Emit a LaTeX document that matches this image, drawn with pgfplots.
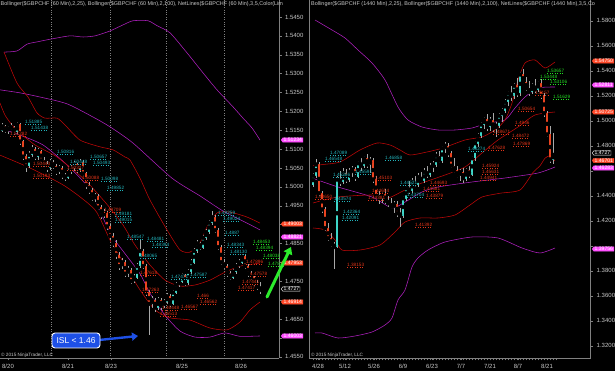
\documentclass[border=0pt]{standalone}
\usepackage{fontspec}
\setmainfont{Liberation Sans}
\usepackage{pgfplots}
\usepackage{pgfplotstable}
\pgfplotsset{compat=1.18}
\usetikzlibrary{shapes.symbols,arrows.meta}

\definecolor{upc}{HTML}{3ED6C8}
\definecolor{dnc}{HTML}{EA4420}
\definecolor{wickc}{HTML}{A8A8A8}
\definecolor{bbred}{HTML}{C00808}
\definecolor{bbpur}{HTML}{B020C0}
\definecolor{tickc}{HTML}{C8C8C8}
\definecolor{axc}{HTML}{808080}
\definecolor{labcy}{HTML}{22B4BC}
\definecolor{labrd}{HTML}{E23418}
\definecolor{labgr}{HTML}{22E022}
\definecolor{flagred}{HTML}{FF4A2A}
\definecolor{flagmag}{HTML}{FF50FF}
\definecolor{islblue}{HTML}{1E50E6}
\definecolor{arrgreen}{HTML}{2CEB2C}

\newcommand\tickfont{\fontsize{6}{7}\selectfont}
\newcommand\nlfont{\fontsize{4.7}{5}\selectfont}
\newcommand\titlefont{\fontsize{5.45}{6}\selectfont}
\newcommand\flagfont{\fontsize{5.1}{5.5}\selectfont}

\newcommand{\nl}[4]{\node[anchor=west, inner sep=0pt, text=#3, font=\nlfont] (nn) at (#1,#2) {#4};
  \draw[#3, dotted, line width=0.5pt] ([yshift=-2.7pt]nn.west) -- ([yshift=-2.7pt]nn.east);}
\newcommand{\flag}[6]{\node[signal, signal to=west, signal pointer angle=110, fill=#3, draw=#4, line width=0.4pt, text=#5, font=\flagfont, inner xsep=0.8pt, inner ysep=0.4pt, anchor=west] at (#1,#2) {#6};}

% hourly candles, left panel (x = horizontal position)
\pgfplotstableread{
x o h l c
2 1.5150 1.5168 1.5145 1.5160
5 1.5160 1.5165 1.5142 1.5150
8 1.5150 1.5162 1.5140 1.5155
11 1.5155 1.5170 1.5150 1.5158
14 1.5158 1.5162 1.5138 1.5145
17 1.5145 1.5172 1.5140 1.5165
20 1.5165 1.5168 1.5110 1.5120
23 1.5120 1.5125 1.5070 1.5080
26 1.5080 1.5088 1.5040 1.5055
29 1.5055 1.5095 1.5050 1.5085
32 1.5085 1.5112 1.5078 1.5100
35 1.5100 1.5105 1.5070 1.5080
38 1.5080 1.5102 1.5072 1.5095
41 1.5095 1.5098 1.5062 1.5070
44 1.5070 1.5078 1.5052 1.5060
47 1.5060 1.5068 1.5040 1.5050
50 1.5050 1.5075 1.5045 1.5065
53 1.5065 1.5070 1.5048 1.5055
56 1.5055 1.5060 1.5032 1.5040
59 1.5040 1.5058 1.5035 1.5050
62 1.5050 1.5055 1.5022 1.5030
65 1.5030 1.5038 1.5015 1.5025
68 1.5025 1.5048 1.5020 1.5040
71 1.5040 1.5058 1.5035 1.5050
74 1.5050 1.5068 1.5042 1.5060
77 1.5060 1.5064 1.5038 1.5045
80 1.5045 1.5075 1.5040 1.5065
83 1.5065 1.5070 1.5028 1.5035
86 1.5035 1.5040 1.4995 1.5005
89 1.5005 1.5012 1.4982 1.4990
92 1.4990 1.4998 1.4962 1.4970
95 1.4970 1.4985 1.4960 1.4975
98 1.4975 1.4980 1.4938 1.4945
101 1.4945 1.4952 1.4915 1.4925
104 1.4925 1.4940 1.4918 1.4930
107 1.4930 1.4935 1.4885 1.4895
110 1.4895 1.4902 1.4860 1.4870
113 1.4870 1.4878 1.4840 1.4850
116 1.4850 1.4858 1.4810 1.4820
119 1.4820 1.4828 1.4780 1.4790
122 1.4790 1.4812 1.4782 1.4800
125 1.4800 1.4805 1.4760 1.4770
128 1.4770 1.4790 1.4762 1.4780
131 1.4780 1.4785 1.4742 1.4750
134 1.4750 1.4768 1.4745 1.4760
137 1.4760 1.4798 1.4755 1.4790
140 1.4790 1.4862 1.4785 1.4830
143 1.4830 1.4835 1.4782 1.4790
146 1.4790 1.4795 1.4712 1.4720
149 1.4720 1.4728 1.4607 1.4690
152 1.4690 1.4710 1.4680 1.4700
155 1.4700 1.4705 1.4668 1.4680
158 1.4680 1.4708 1.4675 1.4700
161 1.4700 1.4705 1.4675 1.4685
164 1.4685 1.4702 1.4680 1.4695
167 1.4695 1.4718 1.4690 1.4710
170 1.4710 1.4715 1.4682 1.4690
173 1.4690 1.4728 1.4686 1.4720
176 1.4720 1.4748 1.4715 1.4740
179 1.4740 1.4758 1.4735 1.4750
182 1.4750 1.4772 1.4745 1.4765
185 1.4765 1.4770 1.4738 1.4745
188 1.4745 1.4782 1.4740 1.4775
191 1.4775 1.4808 1.4770 1.4800
194 1.4800 1.4838 1.4795 1.4830
197 1.4830 1.4858 1.4825 1.4850
200 1.4850 1.4855 1.4832 1.4840
203 1.4840 1.4872 1.4835 1.4865
206 1.4865 1.4888 1.4860 1.4880
209 1.4880 1.4912 1.4875 1.4905
212 1.4905 1.4935 1.4900 1.4920
215 1.4920 1.4925 1.4878 1.4885
218 1.4885 1.4890 1.4832 1.4840
221 1.4840 1.4846 1.4792 1.4800
224 1.4800 1.4808 1.4782 1.4790
227 1.4790 1.4795 1.4762 1.4770
230 1.4770 1.4778 1.4752 1.4760
233 1.4760 1.4782 1.4755 1.4775
236 1.4775 1.4798 1.4770 1.4790
239 1.4790 1.4808 1.4785 1.4800
242 1.4800 1.4822 1.4795 1.4815
245 1.4815 1.4820 1.4782 1.4790
248 1.4790 1.4795 1.4762 1.4770
251 1.4770 1.4778 1.4752 1.4760
254 1.4760 1.4765 1.4738 1.4745
257 1.4745 1.4752 1.4728 1.4735
260 1.4735 1.4748 1.4715 1.4727
}\leftdata

% daily candles, right panel
\pgfplotstableread{
x o h l c
313 1.4490 1.4580 1.4470 1.4560
316 1.4560 1.4690 1.4540 1.4650
319 1.4650 1.4670 1.4400 1.4420
322 1.4420 1.4440 1.4260 1.4290
325 1.4290 1.4310 1.4120 1.4140
328 1.4140 1.4180 1.4040 1.4060
331 1.4060 1.4100 1.3990 1.4010
334 1.4010 1.4030 1.3815 1.3990
337 1.3990 1.4560 1.3980 1.4530
340 1.4530 1.4600 1.4480 1.4510
343 1.4510 1.4620 1.4490 1.4580
346 1.4580 1.4610 1.4500 1.4530
349 1.4530 1.4620 1.4510 1.4590
352 1.4590 1.4640 1.4550 1.4610
355 1.4610 1.4630 1.4520 1.4550
358 1.4550 1.4680 1.4540 1.4660
361 1.4660 1.4700 1.4600 1.4640
364 1.4640 1.4720 1.4620 1.4700
367 1.4700 1.4730 1.4620 1.4650
370 1.4650 1.4710 1.4580 1.4680
373 1.4680 1.4700 1.4500 1.4530
376 1.4530 1.4560 1.4380 1.4400
379 1.4400 1.4440 1.4330 1.4380
382 1.4380 1.4430 1.4340 1.4410
385 1.4410 1.4450 1.4330 1.4360
388 1.4360 1.4400 1.4310 1.4340
391 1.4340 1.4380 1.4290 1.4310
394 1.4310 1.4360 1.4260 1.4330
397 1.4330 1.4360 1.4230 1.4260
400 1.4260 1.4300 1.4150 1.4240
403 1.4240 1.4400 1.4220 1.4380
406 1.4380 1.4480 1.4360 1.4460
409 1.4460 1.4520 1.4410 1.4440
412 1.4440 1.4540 1.4420 1.4510
415 1.4510 1.4560 1.4470 1.4490
418 1.4490 1.4580 1.4470 1.4550
421 1.4550 1.4590 1.4500 1.4520
424 1.4520 1.4620 1.4500 1.4590
427 1.4590 1.4640 1.4540 1.4570
430 1.4570 1.4660 1.4550 1.4630
433 1.4630 1.4680 1.4590 1.4650
436 1.4650 1.4750 1.4630 1.4720
439 1.4720 1.4760 1.4660 1.4680
442 1.4680 1.4800 1.4660 1.4780
445 1.4780 1.4830 1.4740 1.4800
448 1.4800 1.4820 1.4710 1.4740
451 1.4740 1.4760 1.4620 1.4640
454 1.4640 1.4700 1.4580 1.4600
457 1.4600 1.4640 1.4540 1.4560
460 1.4560 1.4610 1.4520 1.4590
463 1.4590 1.4620 1.4500 1.4540
466 1.4540 1.4620 1.4520 1.4600
469 1.4600 1.4640 1.4540 1.4570
472 1.4570 1.4720 1.4560 1.4700
475 1.4700 1.4840 1.4680 1.4820
478 1.4820 1.4900 1.4790 1.4880
481 1.4880 1.4990 1.4860 1.4970
484 1.4970 1.5030 1.4930 1.5010
487 1.5010 1.5050 1.4920 1.4950
490 1.4950 1.5030 1.4920 1.5000
493 1.5000 1.5060 1.4910 1.4940
496 1.4940 1.4990 1.4870 1.4960
499 1.4960 1.5060 1.4940 1.5040
502 1.5040 1.5100 1.4990 1.5080
505 1.5080 1.5170 1.5060 1.5150
508 1.5150 1.5240 1.5120 1.5220
511 1.5220 1.5280 1.5160 1.5200
514 1.5200 1.5300 1.5170 1.5280
517 1.5280 1.5340 1.5190 1.5220
520 1.5220 1.5390 1.5200 1.5370
523 1.5370 1.5410 1.5290 1.5310
526 1.5310 1.5350 1.5240 1.5260
529 1.5260 1.5320 1.5200 1.5230
532 1.5230 1.5300 1.5210 1.5280
535 1.5280 1.5330 1.5220 1.5250
538 1.5250 1.5320 1.5230 1.5300
541 1.5300 1.5330 1.5170 1.5200
544 1.5200 1.5220 1.5030 1.5060
547 1.5060 1.5080 1.4870 1.4890
550 1.4890 1.4960 1.4660 1.4690
553 1.4690 1.4900 1.4650 1.4727
}\rightdata

\pgfplotsset{
  panel/.style={scale only axis, height=358pt, anchor=south west,
    axis x line*=bottom, axis y line*=right,
    axis line style={axc, line width=0.6pt},
    tick style={axc, line width=0.4pt}, tick align=outside,
    major tick length=2.5pt, minor tick length=2.5pt,
    ticklabel style={font=\tickfont, text=tickc},
    yticklabel style={/pgf/number format/fixed, /pgf/number format/fixed zerofill,
      /pgf/number format/precision=4, /pgf/number format/assume math mode=true},
    scaled y ticks=false},
  wick/.style={only marks, mark=none, error bars/y dir=both, error bars/y explicit,
    error bars/error mark=none, error bars/error bar style={draw=wickc, line width=0.4pt}},
  body/.style 2 args={only marks, mark=none, error bars/y dir=both, error bars/y explicit,
    error bars/error mark=none, error bars/error bar style={draw=#1, line width=#2}},
  band/.style={#1, line width=0.55pt, smooth, tension=0.4, mark=none}
}

\begin{document}
\begin{tikzpicture}
\useasboundingbox (0,0) rectangle (615pt,371pt);
\fill[black] (0,0) rectangle (615pt,371pt);

%================ LEFT PANEL (60 min) ================
\begin{axis}[panel, at={(0pt,13pt)}, width=279pt,
  xmin=0, xmax=279, ymin=1.45466, ymax=1.5495,
  ytick={1.455,1.465,1.475,1.485,1.495,1.5,1.505,1.51,1.515,1.52,1.525,1.53,1.535,1.54,1.545},
  extra y ticks={1.46,1.47,1.48,1.49}, extra y tick labels={},
  xtick={8,68,111,182,241}, xticklabels={8/20,8/21,8/23,8/25,8/26},
  extra x ticks={51,110,166,224}, extra x tick labels={},
  extra x tick style={grid=major, major grid style={axc, dotted, line width=0.45pt}, major tick length=0pt}]
% Bollinger (2,100) purple
\addplot[band=bbpur] coordinates {(4,1.5357) (17,1.5360) (27,1.5378) (37,1.5384) (52,1.5392) (70,1.5400) (83,1.5397) (95,1.5400) (110,1.5413) (123,1.5429) (133,1.5440) (148,1.5440) (157,1.5427) (170,1.5408) (187,1.5355) (203,1.5302) (217,1.5257) (233,1.5212) (243,1.5182) (252,1.5156) (260,1.5124)};
\addplot[band=bbpur] coordinates {(0,1.5257) (20,1.5249) (40,1.5238) (67,1.5220) (93,1.5185) (110,1.5159) (133,1.5116) (172,1.5023) (200,1.4976) (223,1.4936) (247,1.4904) (260,1.4886)};
\addplot[band=bbpur] coordinates {(0,1.5156) (20,1.5137) (43,1.5111) (67,1.5058) (90,1.4992) (110,1.4878) (123,1.4830) (140,1.4770) (150,1.4718) (165,1.4660) (180,1.4618) (195,1.4602) (210,1.4602) (225,1.4613) (240,1.4604) (260,1.4605)};
% Bollinger (2,25) red
\addplot[band=bbred] coordinates {(4,1.5357) (17,1.5275) (28,1.5238) (37,1.5196) (45,1.5182) (57,1.5182) (65,1.5164) (80,1.5124) (100,1.5106) (113,1.5098) (125,1.5079) (130,1.5071) (140,1.5023) (150,1.4965) (167,1.4886) (180,1.4833) (190,1.4827) (200,1.4851) (207,1.4894) (217,1.4931) (230,1.4933) (247,1.4920) (260,1.4904)};
\addplot[band=bbred] coordinates {(0,1.5222) (5,1.5190) (12,1.5164) (20,1.5143) (35,1.5111) (57,1.5079) (83,1.5023) (97,1.4984) (110,1.4944) (123,1.4899) (135,1.4846) (150,1.4793) (165,1.4753) (180,1.4737) (195,1.4740) (210,1.4753) (225,1.4774) (240,1.4790) (260,1.4798)};
\addplot[band=bbred] coordinates {(0,1.5084) (30,1.5050) (65,1.5002) (95,1.4939) (110,1.4859) (125,1.4793) (140,1.4727) (155,1.4674) (170,1.4653) (190,1.4647) (210,1.4626) (227,1.4621) (240,1.4642) (250,1.4674) (260,1.4695)};
% candles
\addplot[wick] table[x=x, y=c, y error plus expr={\thisrow{h}-\thisrow{c}}, y error minus expr={\thisrow{c}-\thisrow{l}}] {\leftdata};
\addplot[restrict expr to domain={\thisrow{c}-\thisrow{o}}{0:1}, body={upc}{1.9pt}] table[x=x, y expr={(\thisrow{o}+\thisrow{c})/2}, y error expr={abs(\thisrow{c}-\thisrow{o})/2+0.00007}] {\leftdata};
\addplot[restrict expr to domain={\thisrow{c}-\thisrow{o}}{-1:-0.00001}, body={dnc}{1.9pt}] table[x=x, y expr={(\thisrow{o}+\thisrow{c})/2}, y error expr={abs(\thisrow{c}-\thisrow{o})/2+0.00007}] {\leftdata};
\end{axis}

%================ RIGHT PANEL (1440 min) ================
\begin{axis}[panel, at={(309pt,13pt)}, width=281.7pt,
  xmin=309, xmax=590.7, ymin=1.3102, ymax=1.5966,
  ytick={1.32,1.34,1.36,1.38,1.42,1.44,1.48,1.5,1.52,1.54,1.56,1.58},
  extra y ticks={1.4,1.46}, extra y tick labels={},
  xtick={318,345,374,403,432,461,490,518,547},
  xticklabels={4/28,5/12,5/26,6/9,6/23,7/7,7/21,8/7,8/21},
  minor xtick={313,316,...,556}]
% Bollinger (2,100) purple
\addplot[band=bbpur] coordinates {(315,1.5806) (332,1.5726) (345,1.5662) (358,1.5566) (372,1.5462) (385,1.5326) (398,1.5110) (408,1.5006) (422,1.4950) (438,1.4926) (455,1.4926) (472,1.4942) (488,1.4982) (505,1.5006) (515,1.5102) (525,1.5190) (538,1.5262) (555,1.5270)};
\addplot[band=bbpur] coordinates {(312,1.4542) (338,1.4470) (372,1.4390) (392,1.4302) (405,1.4350) (422,1.4430) (438,1.4470) (472,1.4510) (505,1.4542) (538,1.4582) (555,1.4630)};
\addplot[band=bbpur] coordinates {(315,1.3302) (322,1.3302) (338,1.3262) (355,1.3278) (372,1.3310) (385,1.3366) (392,1.3422) (398,1.3566) (405,1.3646) (412,1.3830) (418,1.3902) (428,1.3966) (445,1.4030) (472,1.4070) (498,1.4062) (522,1.3982) (540,1.3942) (555,1.3982)};
% Bollinger (2,25) red
\addplot[band=bbred] coordinates {(313,1.4640) (323,1.4650) (340,1.4670) (360,1.4766) (377,1.4822) (390,1.4806) (400,1.4766) (410,1.4726) (427,1.4750) (443,1.4782) (465,1.4846) (482,1.4870) (495,1.4926) (505,1.5006) (512,1.5142) (518,1.5326) (525,1.5462) (535,1.5486) (545,1.5422) (555,1.5470)};
\addplot[band=bbred] coordinates {(313,1.4342) (338,1.4390) (372,1.4406) (388,1.4382) (405,1.4446) (422,1.4502) (445,1.4566) (465,1.4630) (482,1.4742) (498,1.4846) (518,1.4950) (535,1.5046) (555,1.5070)};
\addplot[band=bbred] coordinates {(313,1.4142) (325,1.4126) (335,1.4046) (342,1.3966) (360,1.3966) (380,1.4006) (395,1.4110) (405,1.4190) (420,1.4222) (438,1.4222) (455,1.4246) (470,1.4326) (482,1.4390) (500,1.4420) (520,1.4446) (533,1.4586) (540,1.4640) (545,1.4700) (550,1.4720) (555,1.4678)};
% candles
\addplot[wick] table[x=x, y=c, y error plus expr={\thisrow{h}-\thisrow{c}}, y error minus expr={\thisrow{c}-\thisrow{l}}] {\rightdata};
\addplot[restrict expr to domain={\thisrow{c}-\thisrow{o}}{0:1}, body={upc}{2pt}] table[x=x, y expr={(\thisrow{o}+\thisrow{c})/2}, y error expr={abs(\thisrow{c}-\thisrow{o})/2+0.0002}] {\rightdata};
\addplot[restrict expr to domain={\thisrow{c}-\thisrow{o}}{-1:-0.00001}, body={dnc}{2pt}] table[x=x, y expr={(\thisrow{o}+\thisrow{c})/2}, y error expr={abs(\thisrow{c}-\thisrow{o})/2+0.0002}] {\rightdata};
\end{axis}

%================ annotations in pixel coordinates ================
\begin{scope}[x=1pt, y=-1pt, yshift=371pt]
\draw[axc, line width=0.6pt] (309,0) -- (309,358);
% titles (truncated as in the screenshot)
\node[anchor=west, inner sep=0pt, text=tickc, font=\titlefont] at (0.5,4.5) {Bollinger(\$GBPCHF (60 Min),2,25), Bollinger(\$GBPCHF (60 Min),2,100), NetLines(\$GBPCHF (60 Min),3,5,Color(Lim};
\node[anchor=west, inner sep=0pt, text=tickc, font=\titlefont] at (311,4.5) {Bollinger(\$GBPCHF (1440 Min),2,25), Bollinger(\$GBPCHF (1440 Min),2,100), NetLines(\$GBPCHF (1440 Min),3,5,Co};
\node[anchor=west, inner sep=0pt, text=tickc, font=\nlfont] at (1,355) {© 2015 NinjaTrader, LLC};
\node[anchor=west, inner sep=0pt, text=tickc, font=\nlfont] at (311,355) {© 2015 NinjaTrader, LLC};

% NetLines labels, left
\nl{25}{122}{labcy}{1.51885}
\nl{31}{128}{labcy}{1.51438}
\nl{10}{134}{labrd}{1.51282}
\nl{57}{152}{labcy}{1.50816}
\nl{90}{157}{labcy}{1.50657}
\nl{93}{163}{labcy}{1.50493}
\nl{70}{162}{labcy}{1.50448}
\nl{33}{164}{labrd}{1.50443}
\nl{67}{168}{labrd}{1.50327}
\nl{33}{176}{labrd}{1.50193}
\nl{82}{178}{labrd}{1.50088}
\nl{101}{179}{labcy}{1.50098}
\nl{107}{188}{labcy}{1.49852}
\nl{104}{210}{labrd}{1.49709}
\nl{115}{214}{labcy}{1.49181}
\nl{115}{220}{labcy}{1.49015}
\nl{127}{237}{labcy}{1.48547}
\nl{147}{239}{labcy}{1.48481}
\nl{152}{245}{labcy}{1.48394}
\nl{140}{256}{labcy}{1.48065}
\nl{218}{213}{labcy}{1.49259}
\nl{223}{219}{labcy}{1.49024}
\nl{225}{233}{labcy}{1.4887}
\nl{227}{245}{labcy}{1.48343}
\nl{230}{252}{labcy}{1.48130}
\nl{253}{241.5}{labgr}{1.48453}
\nl{256}{247.5}{labgr}{1.48394}
\nl{263}{255.5}{labgr}{1.48038}
\nl{268}{263.5}{labgr}{1.47837}
\nl{246}{262}{labrd}{1.47896}
\nl{250}{274}{labrd}{1.47578}
\nl{242}{281.5}{labrd}{1.47441}
\nl{238}{287.5}{labrd}{1.47417}
\nl{140}{273}{labrd}{1.47618}
\nl{142}{290}{labrd}{1.47263}
\nl{171}{277}{labcy}{1.47471}
\nl{190}{275}{labcy}{1.47587}
\nl{197}{296}{labrd}{1.466}
\nl{200}{302}{labrd}{1.46562}
\nl{162}{308}{labrd}{1.46448}
\nl{181}{307}{labrd}{1.46567}
\nl{160}{314}{labrd}{1.46513}
% NetLines labels, right
\nl{330}{153}{labcy}{1.47089}
\nl{325}{159}{labcy}{1.46548}
\nl{385}{158}{labcy}{1.46858}
\nl{333}{175}{labcy}{1.45386}
\nl{355}{172}{labcy}{1.45591}
\nl{375}{178}{labrd}{1.45103}
\nl{372}{191}{labrd}{1.44654}
\nl{368}{197.5}{labrd}{1.44381}
\nl{315}{197}{labrd}{1.43650}
\nl{334}{199}{labcy}{1.43574}
\nl{343}{212}{labcy}{1.42364}
\nl{342}{218}{labcy}{1.42091}
\nl{400}{183}{labcy}{1.44521}
\nl{430}{183}{labrd}{1.44693}
\nl{423}{189}{labrd}{1.44581}
\nl{407}{195}{labcy}{1.43704}
\nl{426}{196}{labrd}{1.43879}
\nl{415}{225}{labrd}{1.41392}
\nl{347}{265}{labrd}{1.38153}
\nl{547}{71}{labgr}{1.53657}
\nl{540}{76.5}{labgr}{1.53448}
\nl{550}{82}{labgr}{1.53106}
\nl{535}{93}{labrd}{1.5157}
\nl{553}{97}{labgr}{1.51629}
\nl{518}{109}{labrd}{1.50654}
\nl{515}{123}{labrd}{1.4946}
\nl{493}{132}{labrd}{1.48671}
\nl{512}{136}{labrd}{1.48472}
\nl{513}{144}{labrd}{1.47869}
\nl{488}{148}{labrd}{1.47628}
\nl{468}{149}{labcy}{1.48274}
\nl{482}{166}{labrd}{1.45924}
\nl{482}{172}{labrd}{1.45631}
\nl{480}{178}{labrd}{1.44941}

% price flags, left
\flag{281}{140}{flagmag}{flagmag}{white}{1.51234}
\flag{281}{224}{flagred}{flagred}{white}{1.49003}
\flag{281}{237}{flagmag}{flagmag}{white}{1.48821}
\flag{281}{263}{flagred}{flagred}{white}{1.47953}
\flag{281}{289}{black}{white}{white}{1.4727}
\flag{281}{302}{flagred}{flagred}{white}{1.46914}
\flag{281}{336}{flagmag}{flagmag}{white}{1.46003}
% price flags, right
\flag{592}{61}{flagred}{flagred}{white}{1.54750}
\flag{592}{85}{flagmag}{flagmag}{white}{1.52811}
\flag{592}{112}{flagred}{flagred}{white}{1.50725}
\flag{592}{153}{black}{white}{white}{1.4727}
\flag{592}{160.5}{flagred}{flagred}{white}{1.46701}
\flag{592}{168}{flagmag}{flagmag}{white}{1.46283}
\flag{592}{249}{flagmag}{flagmag}{white}{1.39756}

% hand-drawn annotations
\draw[arrgreen, line width=3pt, line cap=round, -{Triangle[length=7pt,width=9pt]}] (267,297) -- (291,247);
\draw[islblue, line width=2.4pt, -{Triangle[length=6pt,width=8pt]}] (99,340) -- (138,336);
\node[draw=white, line width=0.9pt, fill=islblue, rounded corners=3pt, text=white,
  font=\fontsize{8.5}{9}\selectfont, minimum width=48pt, minimum height=15pt, inner sep=1pt] at (76,340.5) {ISL < 1.46};
\end{scope}
\end{tikzpicture}
\end{document}
